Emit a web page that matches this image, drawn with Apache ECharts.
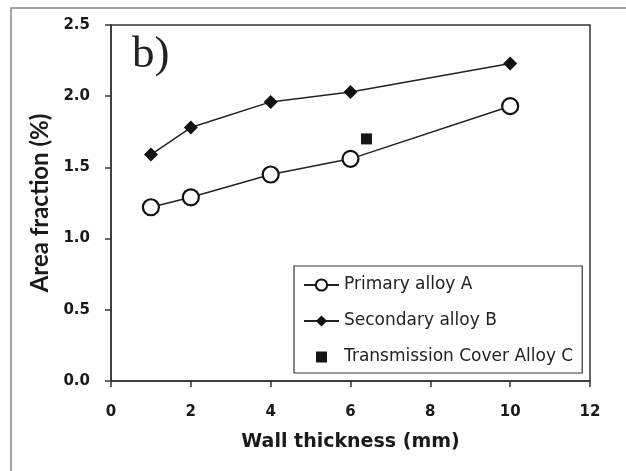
<!DOCTYPE html>
<html>
<head>
<meta charset="utf-8">
<script src="https://cdn.jsdelivr.net/npm/echarts@6/dist/echarts.min.js"></script>
<style>
  html, body { margin: 0; padding: 0; background: #fff; }
  #chart { width: 626px; height: 471px; }
</style>
</head>
<body>
<div id="chart"></div>
<script>
// wall thickness (mm)
const thickness = [1, 2, 4, 6, 10];
// area fraction (%)
const primaryA = [1.22, 1.29, 1.45, 1.56, 1.93];
const secondaryB = [1.59, 1.78, 1.96, 2.03, 2.23];
const coverC = [[6.4, 1.70]];

const wide = '"DejaVu Sans", Verdana, sans-serif';
const narrow = 'Lato, "Open Sans", sans-serif';
const ink = '#1a1a1a';

const chart = echarts.init(document.getElementById('chart'));

function pairs(xs, ys) {
  return xs.map((x, i) => [x, ys[i]]);
}

const option = {
  backgroundColor: '#ffffff',
  animation: false,
  grid: { left: 111, right: 36, top: 25, bottom: 90, show: true, borderColor: '#333', borderWidth: 1.5 },
  graphic: [
    {
      // outer frame of the figure
      type: 'rect', silent: true,
      shape: { x: 11, y: 8, width: 700, height: 600 },
      style: { fill: 'none', stroke: '#888', lineWidth: 1.5 }
    },
    {
      type: 'text', left: 132, top: 33, silent: true,
      style: { text: 'b)', font: '45px "Liberation Serif", "DejaVu Serif", serif', fill: '#222' }
    }
  ],
  legend: {
    orient: 'vertical',
    left: 294, top: 266,
    padding: [10, 9, 7, 9],
    itemGap: 18,
    itemWidth: 35, itemHeight: 14,
    borderColor: '#333', borderWidth: 1.2,
    backgroundColor: '#fff',
    textStyle: { fontFamily: wide, fontSize: 17, color: '#222', lineHeight: 18 },
    data: [
      'Primary alloy A',
      'Secondary alloy B',
      { name: 'Transmission Cover Alloy C', icon: 'path://M0 0M14 14M1.5 1.5H12.5V12.5H1.5Z' }
    ]
  },
  xAxis: {
    type: 'value', min: 0, max: 12, interval: 2,
    name: 'Wall thickness (mm)', nameLocation: 'middle', nameGap: 52,
    nameTextStyle: { fontFamily: wide, fontSize: 19, fontWeight: 'bold', color: ink },
    axisLine: { show: true, lineStyle: { color: '#333', width: 1.5 } },
    axisTick: { show: true, inside: false, length: 6, lineStyle: { color: '#333', width: 1.5 } },
    axisLabel: { fontFamily: wide, fontSize: 15, fontWeight: 'bold', color: ink, margin: 24 },
    splitLine: { show: false }
  },
  yAxis: {
    type: 'value', min: 0, max: 2.5, interval: 0.5,
    name: 'Area fraction (%)', nameLocation: 'middle', nameGap: 57, nameRotate: 90,
    nameTextStyle: { fontFamily: narrow, fontSize: 24, fontWeight: 'bold', color: ink },
    axisLine: { show: true, lineStyle: { color: '#333', width: 1.5 } },
    axisTick: { show: true, inside: false, length: 6, lineStyle: { color: '#333', width: 1.5 } },
    axisLabel: { fontFamily: wide, fontSize: 15, fontWeight: 'bold', color: ink, margin: 21,
      formatter: v => v.toFixed(1) },
    splitLine: { show: false }
  },
  series: [
    {
      name: 'Primary alloy A', type: 'line',
      data: pairs(thickness, primaryA),
      symbol: 'circle', symbolSize: 16,
      lineStyle: { color: '#222', width: 1.5 },
      itemStyle: { color: '#fff', borderColor: '#111', borderWidth: 2.2 },
      z: 3
    },
    {
      name: 'Secondary alloy B', type: 'line',
      data: pairs(thickness, secondaryB),
      symbol: 'diamond', symbolSize: 14,
      lineStyle: { color: '#222', width: 1.5 },
      itemStyle: { color: '#111' },
      z: 3
    },
    {
      name: 'Transmission Cover Alloy C', type: 'scatter',
      data: coverC,
      symbol: 'rect', symbolSize: 11,
      itemStyle: { color: '#151515', opacity: 1 },
      z: 3
    }
  ]
};

chart.setOption(option);
</script>
</body>
</html>
